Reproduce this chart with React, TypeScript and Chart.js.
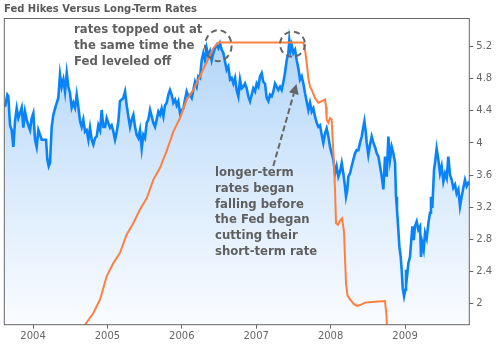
import React, { useEffect, useRef } from "react";
import { Chart, registerables } from "chart.js";
Chart.register(...registerables);

const TITLE = "Fed Hikes Versus Long-Term Rates";
const YEAR_TICKS = [2004, 2005, 2006, 2007, 2008, 2009];
const RATE_TICKS = [2, 2.4, 2.8, 3.2, 3.6, 4, 4.4, 4.8, 5.2];
const X_MIN = 2003.614;
const X_MAX = 2009.864;
const Y_MIN = 1.735;
const Y_MAX = 5.55;

const NOTE_TOP = ["rates topped out at", "the same time the", "Fed leveled off"];
const NOTE_BOTTOM = ["longer-term", "rates began", "falling before", "the Fed began", "cutting their", "short-term rate"];

// long-term (10-year) yield, decimal years
const longYears = [
  2003.624, 2003.655, 2003.668, 2003.691, 2003.713, 2003.736, 2003.758, 2003.781, 2003.803, 2003.825,
  2003.848, 2003.870, 2003.892, 2003.915, 2003.937, 2003.960, 2003.982, 2004.004, 2004.027, 2004.049,
  2004.072, 2004.094, 2004.117, 2004.139, 2004.175, 2004.193, 2004.211, 2004.228, 2004.251, 2004.273,
  2004.309, 2004.340, 2004.363, 2004.385, 2004.408, 2004.430, 2004.453, 2004.475, 2004.497, 2004.520,
  2004.542, 2004.565, 2004.587, 2004.609, 2004.632, 2004.654, 2004.676, 2004.699, 2004.721, 2004.744,
  2004.766, 2004.789, 2004.811, 2004.833, 2004.856, 2004.878, 2004.901, 2004.923, 2004.945, 2004.968,
  2004.990, 2005.012, 2005.035, 2005.057, 2005.080, 2005.102, 2005.125, 2005.147, 2005.169, 2005.192,
  2005.214, 2005.237, 2005.259, 2005.281, 2005.304, 2005.326, 2005.349, 2005.371, 2005.393, 2005.416,
  2005.438, 2005.461, 2005.483, 2005.505, 2005.528, 2005.550, 2005.573, 2005.595, 2005.617, 2005.640,
  2005.662, 2005.685, 2005.707, 2005.729, 2005.752, 2005.774, 2005.797, 2005.819, 2005.841, 2005.864,
  2005.886, 2005.909, 2005.931, 2005.953, 2005.976, 2005.998, 2006.021, 2006.043, 2006.065, 2006.088,
  2006.110, 2006.133, 2006.155, 2006.177, 2006.200, 2006.222, 2006.245, 2006.267, 2006.289, 2006.312,
  2006.334, 2006.357, 2006.379, 2006.401, 2006.424, 2006.446, 2006.469, 2006.491, 2006.513, 2006.536,
  2006.558, 2006.581, 2006.603, 2006.625, 2006.648, 2006.670, 2006.693, 2006.715, 2006.737, 2006.760,
  2006.782, 2006.805, 2006.827, 2006.849, 2006.872, 2006.894, 2006.917, 2006.939, 2006.961, 2006.984,
  2007.006, 2007.029, 2007.051, 2007.073, 2007.096, 2007.118, 2007.141, 2007.163, 2007.185, 2007.208,
  2007.230, 2007.253, 2007.275, 2007.297, 2007.320, 2007.342, 2007.365, 2007.387, 2007.409, 2007.432,
  2007.445, 2007.463, 2007.476, 2007.499, 2007.522, 2007.544, 2007.566, 2007.589, 2007.611, 2007.634,
  2007.656, 2007.678, 2007.701, 2007.723, 2007.746, 2007.768, 2007.790, 2007.813, 2007.835, 2007.858,
  2007.880, 2007.902, 2007.925, 2007.947, 2007.970, 2007.992, 2008.014, 2008.037, 2008.059, 2008.081,
  2008.104, 2008.126, 2008.149, 2008.171, 2008.194, 2008.207, 2008.222, 2008.238, 2008.261, 2008.283,
  2008.305, 2008.328, 2008.350, 2008.373, 2008.395, 2008.418, 2008.440, 2008.454, 2008.472, 2008.485,
  2008.507, 2008.530, 2008.552, 2008.575, 2008.597, 2008.620, 2008.642, 2008.664, 2008.687, 2008.709,
  2008.731, 2008.754, 2008.776, 2008.798, 2008.821, 2008.843, 2008.866, 2008.879, 2008.892, 2008.910,
  2008.924, 2008.942, 2008.955, 2008.969, 2008.987, 2009.004, 2009.013, 2009.027, 2009.045, 2009.067,
  2009.081, 2009.099, 2009.117, 2009.134, 2009.157, 2009.179, 2009.202, 2009.215, 2009.233, 2009.251,
  2009.269, 2009.291, 2009.314, 2009.336, 2009.349, 2009.367, 2009.390, 2009.403, 2009.425, 2009.448,
  2009.470, 2009.492, 2009.515, 2009.538, 2009.560, 2009.582, 2009.605, 2009.627, 2009.649, 2009.672,
  2009.694, 2009.717, 2009.739, 2009.761, 2009.784, 2009.806, 2009.829, 2009.851, 2009.864,
];
const longRates = [
  4.45, 4.60, 4.58, 4.22, 4.16, 3.95, 4.27, 4.43, 4.31, 4.37,
  4.44, 4.19, 4.39, 4.29, 4.22, 4.16, 4.31, 4.37, 4.04, 3.95,
  4.16, 4.10, 4.04, 4.04, 4.04, 3.79, 3.71, 3.75, 4.20, 4.35,
  4.47, 4.56, 4.85, 4.70, 4.79, 4.64, 4.87, 4.70, 4.62, 4.44,
  4.50, 4.44, 4.60, 4.45, 4.27, 4.20, 4.29, 4.14, 4.16, 4.04,
  4.19, 4.04, 3.98, 4.06, 4.08, 4.22, 4.16, 4.41, 4.20, 4.20,
  4.31, 4.25, 4.19, 4.22, 4.14, 4.04, 4.14, 4.27, 4.52, 4.54,
  4.56, 4.64, 4.47, 4.33, 4.20, 4.29, 4.35, 4.20, 4.10, 4.06,
  4.16, 3.93, 4.10, 4.06, 4.25, 4.29, 4.41, 4.33, 4.25, 4.20,
  4.29, 4.39, 4.35, 4.43, 4.33, 4.47, 4.50, 4.60, 4.66, 4.60,
  4.50, 4.54, 4.47, 4.52, 4.37, 4.41, 4.43, 4.54, 4.64, 4.58,
  4.60, 4.56, 4.66, 4.76, 4.70, 4.83, 4.81, 5.03, 5.12, 5.03,
  5.18, 5.08, 5.14, 5.03, 5.12, 5.18, 5.22, 5.18, 5.24, 5.16,
  5.12, 5.01, 4.91, 4.95, 4.79, 4.81, 4.74, 4.81, 4.66, 4.58,
  4.79, 4.68, 4.70, 4.74, 4.68, 4.58, 4.52, 4.60, 4.68, 4.64,
  4.74, 4.70, 4.83, 4.87, 4.76, 4.74, 4.56, 4.52, 4.60, 4.58,
  4.64, 4.74, 4.70, 4.66, 4.70, 4.66, 4.76, 4.87, 5.03, 5.12,
  5.28, 5.16, 5.22, 5.12, 5.16, 5.03, 4.93, 4.79, 4.83, 4.74,
  4.62, 4.52, 4.41, 4.50, 4.39, 4.43, 4.33, 4.25, 4.20, 4.22,
  4.10, 4.00, 4.12, 4.18, 4.08, 3.95, 3.87, 3.79, 3.62, 3.71,
  3.58, 3.64, 3.75, 3.62, 3.45, 3.33, 3.40, 3.58, 3.62, 3.71,
  3.79, 3.87, 3.91, 3.91, 4.00, 4.08, 4.20, 4.27, 4.14, 4.00,
  3.85, 3.98, 4.08, 4.00, 3.95, 3.87, 3.83, 3.71, 3.58, 3.42,
  3.83, 3.58, 4.08, 3.79, 3.95, 3.87, 3.75, 3.33, 3.17, 2.92,
  2.71, 2.58, 2.42, 2.19, 2.09, 2.17, 2.42, 2.34, 2.50, 2.58,
  2.75, 2.96, 2.79, 2.96, 3.02, 2.92, 2.96, 2.58, 2.75, 2.67,
  2.88, 2.81, 3.00, 3.13, 3.33, 3.19, 3.66, 3.75, 3.93, 3.79,
  3.62, 3.71, 3.52, 3.62, 3.56, 3.83, 3.60, 3.54, 3.44, 3.48,
  3.37, 3.42, 3.21, 3.33, 3.44, 3.54, 3.46, 3.50, 3.48,
];

// Fed funds rate, decimal years
const fedYears = [
  2004.605, 2004.699, 2004.811, 2004.901, 2004.991, 2005.079, 2005.169, 2005.259, 2005.348, 2005.438,
  2005.528, 2005.617, 2005.707, 2005.797, 2005.886, 2005.976, 2006.066, 2006.155, 2006.245, 2006.335,
  2006.423, 2006.491, 2007.633, 2007.656, 2007.679, 2007.700, 2007.723, 2007.746, 2007.790, 2007.835,
  2007.880, 2007.925, 2007.938, 2007.947, 2007.970, 2007.992, 2008.014, 2008.028, 2008.046, 2008.059,
  2008.073, 2008.099, 2008.126, 2008.153, 2008.167, 2008.180, 2008.194, 2008.207, 2008.227, 2008.261,
  2008.315, 2008.355, 2008.395, 2008.462, 2008.597, 2008.731, 2008.751, 2008.765,
];
const fedRates = [
  1.60, 1.735, 1.88, 2.05, 2.34, 2.50, 2.63, 2.86, 3.00, 3.17,
  3.31, 3.54, 3.69, 3.90, 4.14, 4.31, 4.54, 4.66, 4.83, 5.01,
  5.18, 5.25, 5.25, 5.16, 4.99, 4.81, 4.70, 4.66, 4.56, 4.50,
  4.52, 4.54, 4.45, 4.29, 4.25, 4.31, 4.29, 4.04, 3.71, 3.42,
  3.00, 2.98, 3.03, 3.06, 2.98, 2.89, 2.55, 2.25, 2.10, 2.05,
  1.99, 1.97, 1.98, 2.01, 2.02, 2.03, 1.85, 1.50,
];

const FONT = "'DejaVu Sans', Verdana, sans-serif";

export default function App() {
  const ref = useRef<HTMLCanvasElement>(null);

  useEffect(() => {
    document.body.style.margin = "0";
    const canvas = ref.current;
    if (!canvas) return;

    const longData = longYears.map((x, i) => ({ x, y: longRates[i] }));
    const fedData = fedYears.map((x, i) => ({ x, y: fedRates[i] }));

    const decor = {
      id: "decor",
      afterDraw(chart: any) {
        const { ctx, chartArea: a, scales } = chart;
        const xs = scales.x;
        const ys = scales.y;
        ctx.save();
        ctx.setLineDash([]);
        ctx.strokeStyle = "#666";
        ctx.lineWidth = 1;
        ctx.strokeRect(a.left, a.top, a.right - a.left, a.bottom - a.top);

        ctx.textAlign = "left";
        ctx.textBaseline = "alphabetic";
        ctx.fillStyle = "#595959";
        ctx.font = `bold 10px ${FONT}`;
        ctx.fillText(TITLE, 4, 11.7);

        ctx.fillStyle = "#5f5f5f";
        ctx.font = `bold 11.7px ${FONT}`;
        NOTE_TOP.forEach((t, i) => ctx.fillText(t, 74, 33.3 + i * 15.8));
        NOTE_BOTTOM.forEach((t, i) => ctx.fillText(t, 215, 176 + i * 15.8));

        ctx.strokeStyle = "#666";
        ctx.lineWidth = 2;
        ctx.setLineDash([6, 4]);
        ctx.beginPath();
        ctx.ellipse(xs.getPixelForValue(2006.490), ys.getPixelForValue(5.212), 13.3, 15.5, 0, 0, Math.PI * 2);
        ctx.stroke();
        ctx.beginPath();
        ctx.ellipse(xs.getPixelForValue(2007.488), ys.getPixelForValue(5.229), 12.5, 12.5, 0, 0, Math.PI * 2);
        ctx.stroke();

        // arrow
        const x0 = 273.3, y0 = 166, x1 = 296.5, y1 = 84;
        const dx = x1 - x0, dy = y1 - y0;
        const len = Math.hypot(dx, dy);
        const ux = dx / len, uy = dy / len;
        const head = 10, hw = 5;
        const bx = x1 - ux * head, by = y1 - uy * head;
        ctx.setLineDash([6, 3]);
        ctx.beginPath();
        ctx.moveTo(x0, y0);
        ctx.lineTo(bx, by);
        ctx.stroke();
        ctx.setLineDash([]);
        ctx.fillStyle = "#666";
        ctx.beginPath();
        ctx.moveTo(x1, y1);
        ctx.lineTo(bx - uy * hw, by + ux * hw);
        ctx.lineTo(bx + uy * hw, by - ux * hw);
        ctx.closePath();
        ctx.fill();
        ctx.restore();
      },
    };

    const chart = new Chart(canvas, {
      type: "line",
      data: {
        datasets: [
          {
            label: "Fed funds rate",
            data: fedData,
            borderColor: "#ff7f3f",
            borderWidth: 2,
            pointRadius: 0,
            tension: 0,
            fill: false,
          },
          {
            label: "Long-term rate",
            data: longData,
            borderColor: "#0883fa",
            borderWidth: 2.6,
            pointRadius: 0,
            tension: 0,
            fill: "start",
            backgroundColor: (c: any) => {
              const { chart: ch } = c;
              const area = ch.chartArea;
              if (!area) return "rgba(200,225,250,0.6)";
              const g = ch.ctx.createLinearGradient(0, area.top, 0, area.bottom);
              g.addColorStop(0, "rgb(172,210,248)");
              g.addColorStop(0.5, "rgb(214,233,252)");
              g.addColorStop(1, "rgb(250,252,255)");
              return g;
            },
          },
        ],
      },
      options: {
        responsive: false,
        animation: false,
        devicePixelRatio: 1,
        layout: { padding: { top: 18.5, left: 4.3, right: 0, bottom: 0 } },
        plugins: { legend: { display: false }, tooltip: { enabled: false }, title: { display: false } },
        scales: {
          x: {
            type: "linear",
            min: X_MIN,
            max: X_MAX,
            afterBuildTicks: (s: any) => {
              s.ticks = YEAR_TICKS.map((v) => ({ value: v }));
            },
            afterFit: (s: any) => {
              s.height = 21.3;
            },
            grid: { drawOnChartArea: false, drawTicks: true, tickLength: 4, color: "#666" },
            border: { display: false },
            ticks: {
              color: "#666",
              font: { family: FONT, size: 10 },
              padding: 2,
              autoSkip: false,
              maxRotation: 0,
              callback: (v: any) => String(v),
            },
          },
          y: {
            type: "linear",
            position: "right",
            min: Y_MIN,
            max: Y_MAX,
            afterBuildTicks: (s: any) => {
              s.ticks = RATE_TICKS.map((v) => ({ value: v }));
            },
            afterFit: (s: any) => {
              s.width = 27.7;
            },
            grid: { drawOnChartArea: false, drawTicks: true, tickLength: 4, color: "#666" },
            border: { display: false },
            ticks: {
              color: "#666",
              font: { family: FONT, size: 10 },
              padding: 3,
              autoSkip: false,
              callback: (v: any) => String(v),
            },
          },
        },
      },
      plugins: [decor],
    } as any);

    return () => chart.destroy();
  }, []);

  return (
    <div style={{ position: "fixed", left: 0, top: 0, width: 497, height: 346 }}>
      <canvas ref={ref} width={497} height={346} style={{ display: "block" }} />
    </div>
  );
}
